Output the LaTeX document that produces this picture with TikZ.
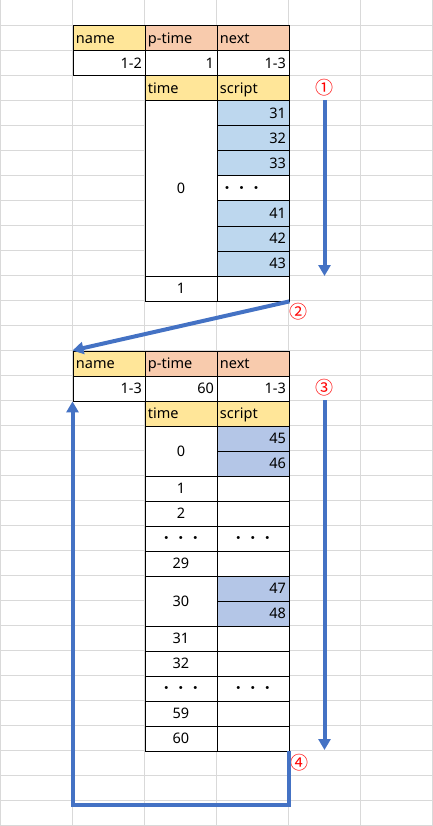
\documentclass[tikz,border=0pt]{standalone}
\usepackage{fontspec}
\setmainfont{Noto Sans}
\newfontfamily\jpfont{Noto Sans CJK JP}
\usetikzlibrary{arrows.meta}
\definecolor{gridc}{HTML}{D9D9D9}
\definecolor{hdry}{HTML}{FFE699}
\definecolor{hdro}{HTML}{F8CBAD}
\definecolor{blua}{HTML}{BDD7EE}
\definecolor{blub}{HTML}{B4C6E7}
\definecolor{arr}{HTML}{4472C4}
\tikzset{
  cell/.style={draw=black, line width=0.9pt, anchor=north west, minimum height=25pt,
    inner xsep=3pt, inner ysep=0pt, text width=66pt, text height=11pt, text depth=0pt,
    font=\fontsize{14.5}{16}\selectfont},
  lft/.style={cell, align=left},
  rgt/.style={cell, align=right},
  ctr/.style={cell, align=center},
  yel/.style={fill=hdry},
  org/.style={fill=hdro},
  bla/.style={fill=blua},
  blb/.style={fill=blub},
  wht/.style={fill=white},
  flow/.style={draw=arr, line width=4pt, -{Triangle[width=12pt,length=11pt]}},
  circ/.style={text=red, font=\jpfont\fontsize{18}{19}\selectfont, inner sep=0pt},
}
\newcommand{\dotsjp}{{\jpfont ・・・}}
\begin{document}
\begin{tikzpicture}[x=1pt, y=-1pt]
\useasboundingbox (0,0) rectangle (433,826);
% grid
\foreach \c in {0,...,6} \draw[gridc, line width=1pt] (72*\c+0.5,0) -- (72*\c+0.5,826);
\foreach \r in {1,...,33} \draw[gridc, line width=1pt] (0,25*\r+0.5) -- (433,25*\r+0.5);
% ---------- upper table ----------
\node[lft, yel] (n1) at (72.5,25.5) {name};
\node[lft, org] (p1) at (144.5,25.5) {p-time};
\node[lft, org] (x1) at (216.5,25.5) {next};
\node[rgt, wht] (nv1) at (72.5,50.5) {1-2};
\node[rgt, wht] (pv1) at (144.5,50.5) {1};
\node[rgt, wht] (xv1) at (216.5,50.5) {1-3};
\node[lft, yel] (t1) at (144.5,75.5) {time};
\node[lft, yel] (s1) at (216.5,75.5) {script};
\node[ctr, wht, minimum height=175pt] (t1a) at (144.5,100.5) {0};
\node[rgt, bla] (s1a) at (216.5,100.5) {31};
\node[rgt, bla] (s1b) at (216.5,125.5) {32};
\node[rgt, bla] (s1c) at (216.5,150.5) {33};
\node[lft, wht] (s1d) at (216.5,175.5) {\dotsjp};
\node[rgt, bla] (s1e) at (216.5,200.5) {41};
\node[rgt, bla] (s1f) at (216.5,225.5) {42};
\node[rgt, bla] (s1g) at (216.5,250.5) {43};
\node[ctr, wht] (t1b) at (144.5,275.5) {1};
\node[rgt, wht] (s1h) at (216.5,275.5) {};
% ---------- lower table ----------
\node[lft, yel] (n2) at (72.5,350.5) {name};
\node[lft, org] (p2) at (144.5,350.5) {p-time};
\node[lft, org] (x2) at (216.5,350.5) {next};
\node[rgt, wht] (nv2) at (72.5,375.5) {1-3};
\node[rgt, wht] (pv2) at (144.5,375.5) {60};
\node[rgt, wht] (xv2) at (216.5,375.5) {1-3};
\node[lft, yel] (t2) at (144.5,400.5) {time};
\node[lft, yel] (s2) at (216.5,400.5) {script};
\node[ctr, wht, minimum height=50pt] (u0) at (144.5,425.5) {0};
\node[rgt, blb] (v45) at (216.5,425.5) {45};
\node[rgt, blb] (v46) at (216.5,450.5) {46};
\node[ctr, wht] (u1) at (144.5,475.5) {1};
\node[rgt, wht] (w1) at (216.5,475.5) {};
\node[ctr, wht] (u2) at (144.5,500.5) {2};
\node[rgt, wht] (w2) at (216.5,500.5) {};
\node[ctr, wht] (u3) at (144.5,525.5) {\dotsjp};
\node[ctr, wht] (w3) at (216.5,525.5) {\dotsjp};
\node[ctr, wht] (u29) at (144.5,550.5) {29};
\node[rgt, wht] (w29) at (216.5,550.5) {};
\node[ctr, wht, minimum height=50pt] (u30) at (144.5,575.5) {30};
\node[rgt, blb] (v47) at (216.5,575.5) {47};
\node[rgt, blb] (v48) at (216.5,600.5) {48};
\node[ctr, wht] (u31) at (144.5,625.5) {31};
\node[rgt, wht] (w31) at (216.5,625.5) {};
\node[ctr, wht] (u32) at (144.5,650.5) {32};
\node[rgt, wht] (w32) at (216.5,650.5) {};
\node[ctr, wht] (u4) at (144.5,675.5) {\dotsjp};
\node[ctr, wht] (w4) at (216.5,675.5) {\dotsjp};
\node[ctr, wht] (u59) at (144.5,700.5) {59};
\node[rgt, wht] (w59) at (216.5,700.5) {};
\node[ctr, wht] (u60) at (144.5,725.5) {60};
\node[rgt, wht] (w60) at (216.5,725.5) {};
% ---------- markers ----------
\node[circ] (m1) at (324.5,87.5) {①};
\node[circ] (m2) at (298,311.5) {②};
\node[circ] (m3) at (324.5,388) {③};
\node[circ] (m4) at (299,763) {④};
% ---------- arrows ----------
\coordinate (a1s) at (324.5,100);
\coordinate (a1e) at (324.5,276);
\coordinate (a3s) at (324.5,400);
\coordinate (a3e) at (324.5,750);
\draw[flow] (a1s) -- (a1e);
\draw[flow] (a3s) -- (a3e);
\draw[flow, line cap=butt] (s1h.south east) -- (n2.north west);
\draw[flow, line join=miter] (w60.south east) -- ++(0,54) -| (nv2.south west);
\end{tikzpicture}
\end{document}
